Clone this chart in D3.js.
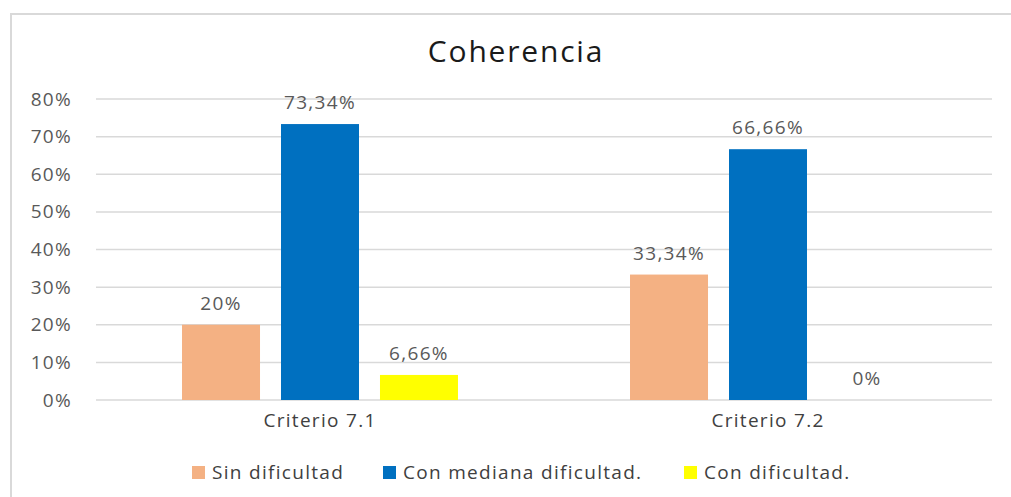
<!DOCTYPE html>
<html>
<head>
<meta charset="utf-8">
<script src="https://cdn.jsdelivr.net/npm/d3@7"></script>
<style>
  body { margin: 0; background: #fff; }
  text { font-family: "Open Sans", sans-serif; }
</style>
</head>
<body>
<svg id="chart" width="1011" height="497"></svg>
<script>
// data
var categories = ["Criterio 7.1", "Criterio 7.2"];
var seriesNames = ["Sin dificultad", "Con mediana dificultad.", "Con dificultad."];
var seriesColors = ["#F4B183", "#0070C0", "#FFFF00"];
var sinDificultad = [20, 33.34];
var conMediana = [73.34, 66.66];
var conDificultad = [6.66, 0];
var valueLabels = [["20%", "33,34%"], ["73,34%", "66,66%"], ["6,66%", "0%"]];
var yTicks = [0, 10, 20, 30, 40, 50, 60, 70, 80];

var seriesValues = [sinDificultad, conMediana, conDificultad];

var svg = d3.select("#chart"),
  width = +svg.attr("width"),
  height = +svg.attr("height");

// chart border
svg.append("rect")
  .attr("x", 11).attr("y", 14)
  .attr("width", 1100).attr("height", 600)
  .attr("fill", "none")
  .attr("stroke", "#d9d9d9")
  .attr("stroke-width", 2);

var margin = { left: 96, right: 19, top: 99, bottom: 97 };

var x0 = d3.scaleBand()
  .domain(categories)
  .range([margin.left, width - margin.right])
  .padding(0);

var x1 = d3.scaleBand()
  .domain(d3.range(seriesNames.length))
  .range([0, x0.bandwidth()])
  .paddingInner(0.212)
  .paddingOuter(0.869);

var y = d3.scaleLinear()
  .domain([0, 80])
  .range([height - margin.bottom, margin.top]);

// gridlines
svg.append("g")
  .selectAll("line")
  .data(yTicks)
  .join("line")
  .attr("x1", margin.left)
  .attr("x2", width - margin.right)
  .attr("y1", d => y(d))
  .attr("y2", d => y(d))
  .attr("stroke", "#d9d9d9")
  .attr("stroke-width", 1.5);

// y axis labels
var yAxis = d3.axisLeft(y)
  .tickValues(yTicks)
  .tickFormat(d => d + "%")
  .tickSize(0)
  .tickPadding(24);

svg.append("g")
  .attr("transform", "translate(" + margin.left + ",0)")
  .call(yAxis)
  .call(g => g.select(".domain").remove())
  .selectAll("text")
  .attr("fill", "#595959")
  .style("font-size", "19px")
  .style("letter-spacing", "1.3px");

// x axis labels
var xAxis = d3.axisBottom(x0).tickSize(0).tickPadding(14);
svg.append("g")
  .attr("transform", "translate(0," + y(0) + ")")
  .call(xAxis)
  .call(g => g.select(".domain").remove())
  .selectAll("text")
  .attr("fill", "#404040")
  .style("font-size", "19px")
  .style("letter-spacing", "1.3px");

// bars
var groups = svg.append("g")
  .selectAll("g")
  .data(seriesValues)
  .join("g")
  .attr("fill", (d, i) => seriesColors[i]);

groups.selectAll("rect")
  .data((d, i) => d.map((v, j) => ({ s: i, c: j, v: v })))
  .join("rect")
  .attr("x", d => x0(categories[d.c]) + x1(d.s))
  .attr("y", d => y(d.v))
  .attr("width", x1.bandwidth())
  .attr("height", d => y(0) - y(d.v));

// value labels
groups.selectAll("text")
  .data((d, i) => d.map((v, j) => ({ s: i, c: j, v: v })))
  .join("text")
  .attr("x", d => x0(categories[d.c]) + x1(d.s) + x1.bandwidth() / 2)
  .attr("y", d => y(d.v) - 15)
  .attr("text-anchor", "middle")
  .attr("fill", "#595959")
  .style("font-size", "19px")
  .style("letter-spacing", "1.3px")
  .text(d => valueLabels[d.s][d.c]);

// title
svg.append("text")
  .attr("x", 516)
  .attr("y", 62)
  .attr("text-anchor", "middle")
  .attr("fill", "#1a1a1a")
  .style("font-size", "30px")
  .style("letter-spacing", "1.8px")
  .text("Coherencia");

// legend
var legendX = [192, 383, 684];
var legend = svg.append("g")
  .selectAll("g")
  .data(seriesNames)
  .join("g")
  .attr("transform", (d, i) => "translate(" + legendX[i] + ",466)");

legend.append("rect")
  .attr("width", 13)
  .attr("height", 13)
  .attr("fill", (d, i) => seriesColors[i]);

legend.append("text")
  .attr("x", 20)
  .attr("y", 13)
  .attr("fill", "#404040")
  .style("font-size", "19px")
  .style("letter-spacing", "1.3px")
  .text(d => d);
</script>
</body>
</html>
